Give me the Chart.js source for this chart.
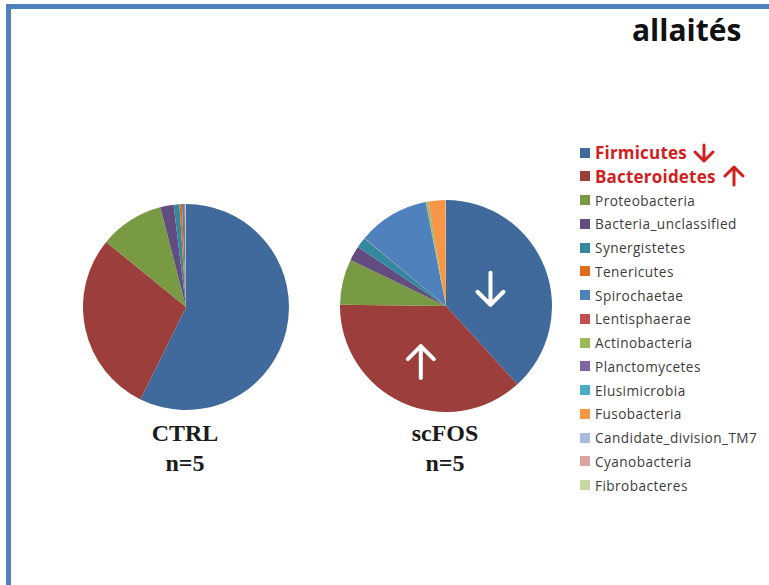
<!DOCTYPE html>
<html lang="fr">
<head>
<meta charset="UTF-8">
<title>Phyla - allaités</title>
<script src="https://cdn.jsdelivr.net/npm/chart.js"></script>
<style>
    html, body { margin: 0; padding: 0; background: #fff; }
    #page { position: relative; width: 769px; height: 585px; overflow: hidden; }
    #frame {
        position: absolute; left: 6px; top: 4px; width: 800px; height: 620px;
        border-left: 5px solid #4f81bd; border-top: 5px solid #4f81bd;
    }
    #title {
        position: absolute; left: 632px; top: 9px;
        font: bold 30px "Open Sans", sans-serif; color: #111;
    }
    .pie { position: absolute; }
    .group {
        position: absolute; width: 160px; text-align: center;
        font: bold 24px "Liberation Serif", serif; line-height: 30px; color: #1b1b1b;
    }
    .row {
        position: absolute; left: 580px; height: 24px;
        display: flex; align-items: center; white-space: nowrap;
        font: 13.6px "Open Sans", sans-serif; letter-spacing: 0.45px; color: #3c3c3c;
    }
    .row .sw { width: 10px; height: 10px; margin-right: 5px; flex: none; }
    .row.hl { font-weight: bold; font-size: 17px; letter-spacing: 0.2px; color: #d02020; }
    .row svg { margin-left: 6px; }
    .row svg.up { margin-left: 7px; }
</style>
</head>
<body>
<div id="page">
    <div id="frame"></div>
    <div id="title">allaités</div>

    <canvas id="ctrlPie" class="pie" width="206" height="206" style="left:83px;top:204px"></canvas>
    <canvas id="fosPie" class="pie" width="212" height="212" style="left:340px;top:200px"></canvas>

    <div class="group" style="left:105px;top:418px">CTRL<br>n=5</div>
    <div class="group" style="left:365px;top:418px">scFOS<br>n=5</div>

    <div id="legend"></div>
</div>

<script>
// relative abundance of each phylum (%)
const phyla = ['Firmicutes', 'Bacteroidetes', 'Proteobacteria', 'Bacteria_unclassified',
    'Synergistetes', 'Tenericutes', 'Spirochaetae', 'Lentisphaerae', 'Actinobacteria',
    'Planctomycetes', 'Elusimicrobia', 'Fusobacteria', 'Candidate_division_TM7',
    'Cyanobacteria', 'Fibrobacteres'];
const ctrlValues = [57.3, 28.6, 10.1, 2.1, 0.9, 0.4, 0.4, 0.05, 0.05, 0.02, 0.02, 0.05, 0.01, 0.01, 0.01];
const fosValues = [38.4, 37.1, 7.0, 2.25, 1.6, 0.05, 10.9, 0.05, 0.3, 0.05, 0.05, 2.6, 0.02, 0.02, 0.02];
const phylaColors = ['#40699c', '#9c3f3c', '#789a42', '#634c80', '#33889f', '#e06c1c',
    '#4f81bd', '#c0504d', '#9bbb59', '#8064a2', '#4bacc6', '#f79646',
    '#a6bddb', '#dba3a1', '#c6d9a4'];
// phyla that change with scFOS: 'down' or 'up'
const trends = { 0: 'down', 1: 'up' };

function arrowSvg(dir, w, h, color, lw) {
    const cx = w / 2;
    const pts = dir === 'down'
        ? `M${cx} 2 L${cx} ${h - 2} M2 ${h - cx} L${cx} ${h - 2} L${w - 2} ${h - cx}`
        : `M${cx} ${h - 2} L${cx} 2 M2 ${cx} L${cx} 2 L${w - 2} ${cx}`;
    return `<svg class="${dir}" width="${w}" height="${h}"><path d="${pts}" fill="none" stroke="${color}" ` +
        `stroke-width="${lw}" stroke-linecap="round" stroke-linejoin="round"/></svg>`;
}

// legend built from the phyla lists
const legend = document.getElementById('legend');
phyla.forEach((name, i) => {
    const row = document.createElement('div');
    row.className = 'row' + (trends[i] ? ' hl' : '');
    row.style.top = (152.7 + i * 23.75 - 12) + 'px';
    let html = `<span class="sw" style="background:${phylaColors[i]}"></span><span>${name}</span>`;
    if (trends[i] === 'down') html += arrowSvg('down', 22, 20, '#d02020', 3);
    if (trends[i] === 'up') html += arrowSvg('up', 22, 22, '#d02020', 3);
    row.innerHTML = html;
    legend.appendChild(row);
});

// white arrows drawn inside the changed slices
const sliceArrows = {
    id: 'sliceArrows',
    afterDatasetsDraw(chart, args, opts) {
        if (!opts.items) return;
        const ctx = chart.ctx;
        const meta = chart.getDatasetMeta(0);
        opts.items.forEach(it => {
            const arc = meta.data[it.index];
            const mid = (arc.startAngle + arc.endAngle) / 2;
            const x = arc.x + Math.cos(mid) * arc.outerRadius * it.frac;
            const y = arc.y + Math.sin(mid) * arc.outerRadius * it.frac;
            const h = 32, hw = 13, s = it.dir === 'down' ? 1 : -1;
            ctx.save();
            ctx.strokeStyle = '#fff';
            ctx.lineWidth = 4;
            ctx.lineCap = 'round';
            ctx.lineJoin = 'round';
            ctx.beginPath();
            ctx.moveTo(x, y - s * h / 2);
            ctx.lineTo(x, y + s * h / 2);
            ctx.moveTo(x - hw, y + s * (h / 2 - hw));
            ctx.lineTo(x, y + s * h / 2);
            ctx.lineTo(x + hw, y + s * (h / 2 - hw));
            ctx.stroke();
            ctx.restore();
        });
    }
};

function makePie(canvasId, values, arrows) {
    return new Chart(document.getElementById(canvasId), {
        type: 'pie',
        data: {
            labels: phyla,
            datasets: [{
                data: values,
                backgroundColor: phylaColors,
                borderWidth: 0
            }]
        },
        options: {
            responsive: false,
            animation: false,
            layout: { padding: 0 },
            plugins: {
                legend: { display: false },
                tooltip: { enabled: false },
                sliceArrows: { items: arrows }
            }
        },
        plugins: [sliceArrows]
    });
}

makePie('ctrlPie', ctrlValues, []);
makePie('fosPie', fosValues, [
    { index: 0, dir: 'down', frac: 0.45 },
    { index: 1, dir: 'up', frac: 0.58 }
]);
</script>
</body>
</html>
